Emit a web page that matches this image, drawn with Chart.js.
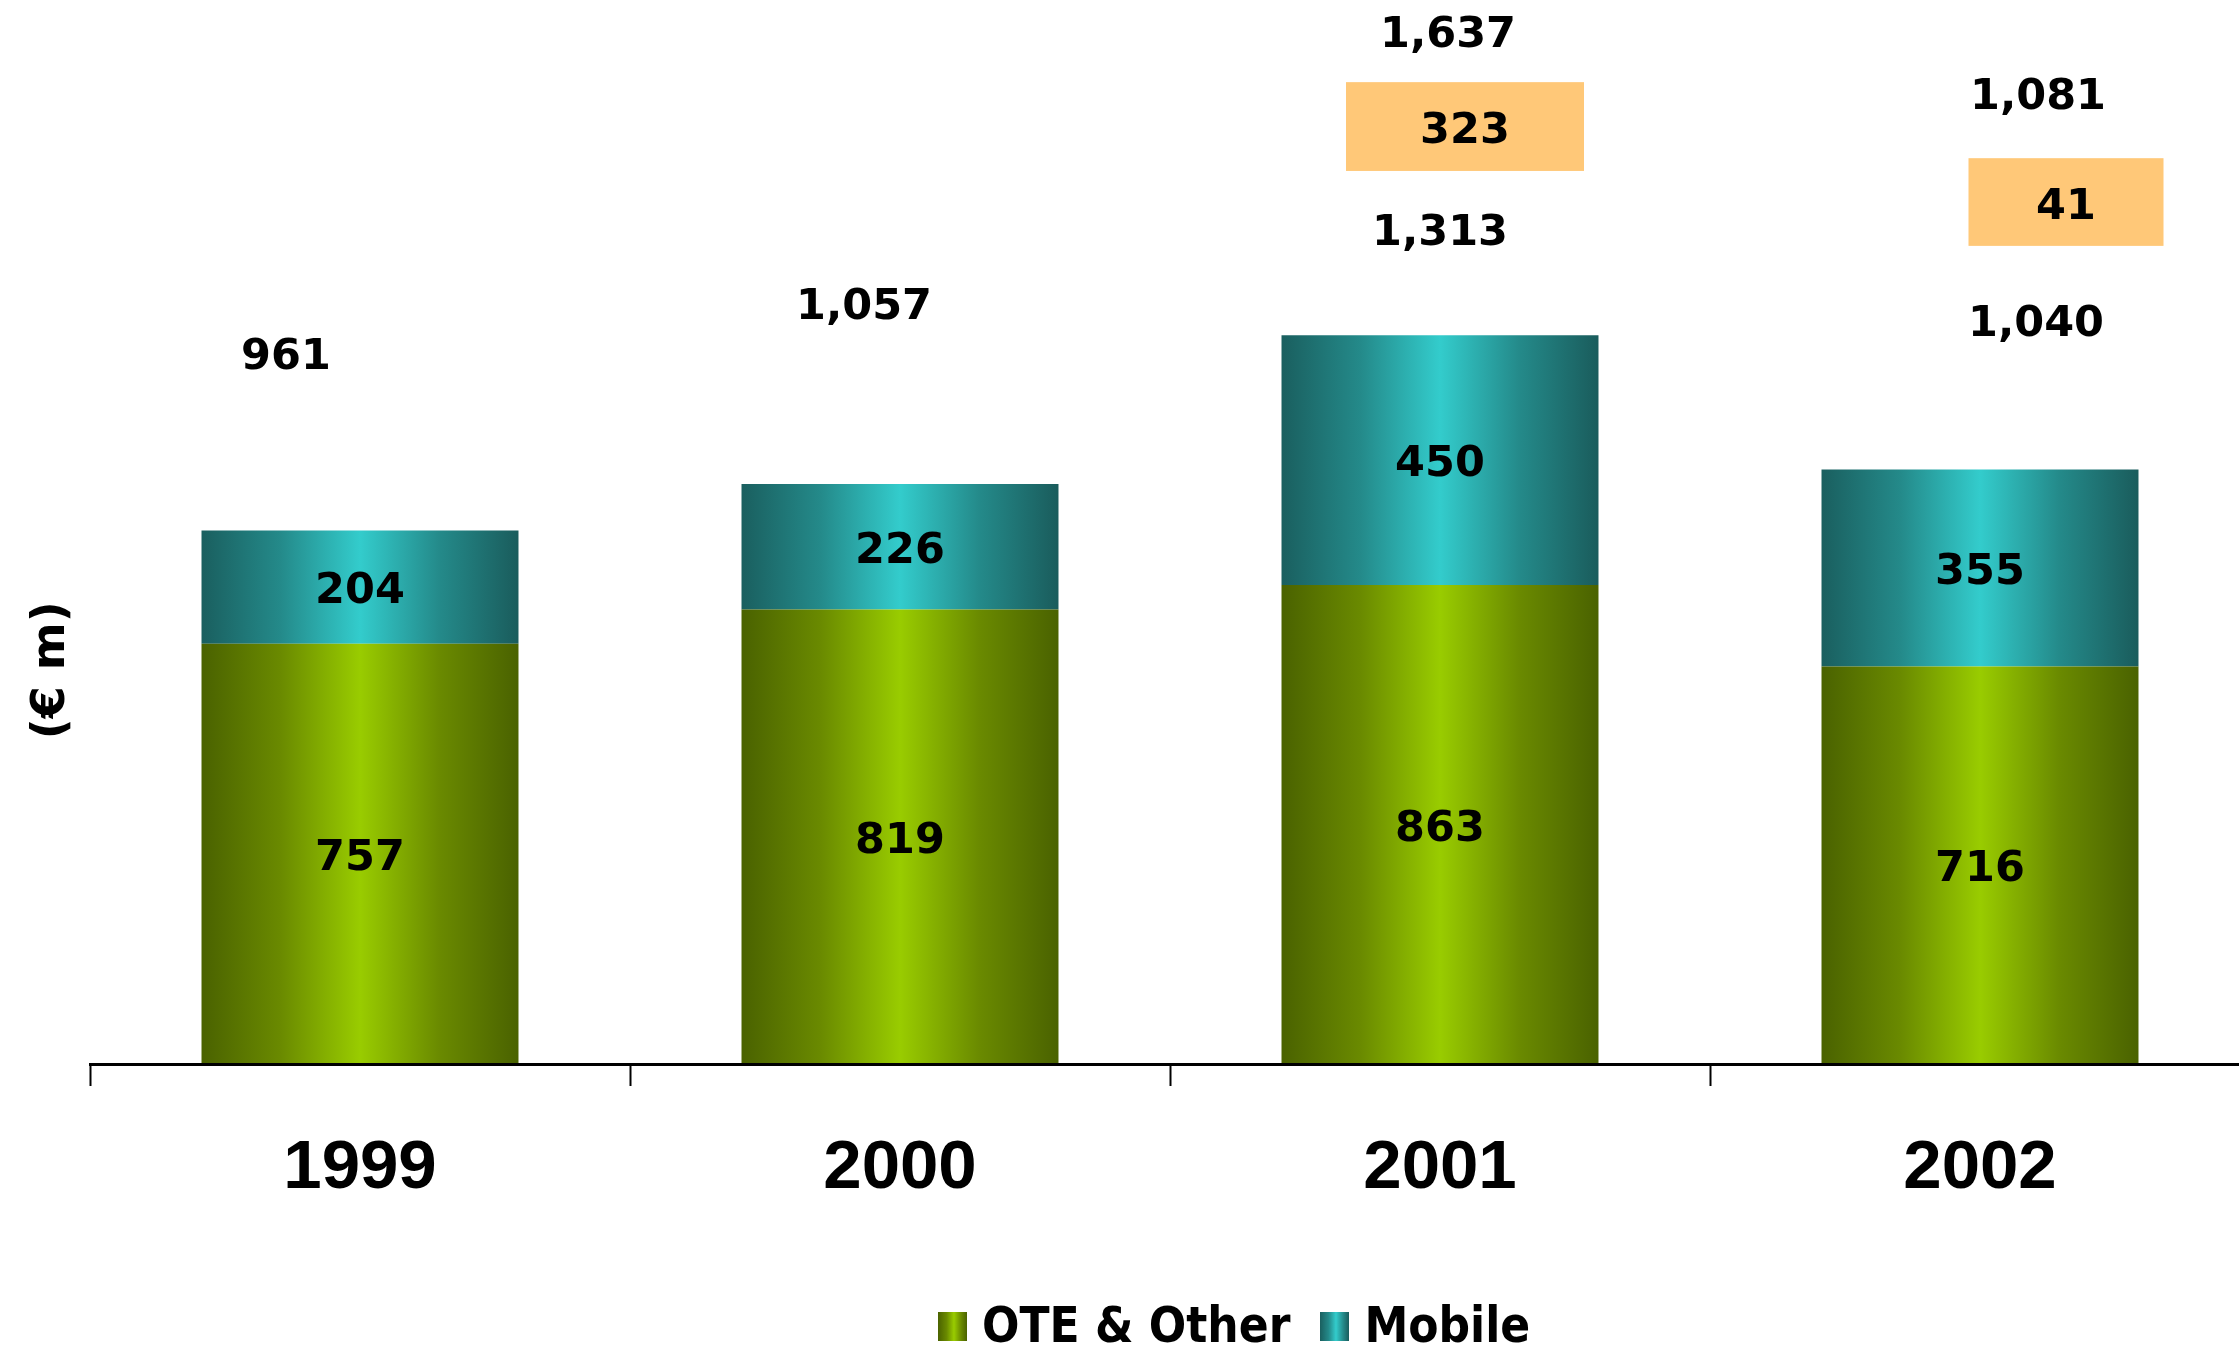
<!DOCTYPE html>
<html lang="en">
<head>
  <meta charset="UTF-8">
  <title>OTE Group (€ m) 1999-2002</title>
  <style>
    html, body {
      margin: 0;
      padding: 0;
      background: #fff;
      overflow: hidden;
    }
    .wrap {
      position: relative;
      width: 2250px;
      height: 1349px;
    }
    #legend {
      position: absolute;
      left: 938px;
      top: 1297px;
      display: flex;
      align-items: center;
      font-family: 'DejaVu Sans Condensed', 'DejaVu Sans', sans-serif;
      font-stretch: condensed;
      font-weight: bold;
      font-size: 49px;
      line-height: 58px;
      color: #000;
    }
    #legend .item {
      display: flex;
      align-items: center;
      margin-right: 30px;
    }
    #legend .box {
      width: 29px;
      height: 29px;
      margin-right: 15px;
    }
  </style>
</head>
<body>
  <div class="wrap">
    <canvas id="chart" width="2250" height="1349"></canvas>
    <div id="legend"></div>
  </div>

  <script src="https://cdn.jsdelivr.net/npm/chart.js"></script>
  <script>
    // data
    const years = ['1999', '2000', '2001', '2002'];
    const oteOther = [757, 819, 863, 716];
    const mobile = [204, 226, 450, 355];
    const totals = ['961', '1,057', '1,313', '1,040'];
    const adjustments = [null, null, '323', '41'];
    const adjustedTotals = [null, null, '1,637', '1,081'];

    const BAR_PCT = 0.587;
    const LABEL_FONT = 'bold 43px "DejaVu Sans"';
    const TEXT_NUDGE = 5; // canvas "middle" sits a little high for digits

    // where the callouts sit above each bar (y in axis units, dx in px from bar centre)
    const noteLayout = [
      { totalY: 1281, totalDx: -74 },
      { totalY: 1371, totalDx: -36 },
      { totalY: 1505, totalDx: 0, boxTop: 1769, boxBottom: 1609, boxDx: 25, boxW: 238, boxTextY: 1688, topY: 1861, topDx: 8 },
      { totalY: 1341, totalDx: 56, boxTop: 1632, boxBottom: 1474, boxDx: 86, boxW: 195, boxTextY: 1551, topY: 1750, topDx: 58 }
    ];

    const palette = {
      green: ['#4a6200', '#6a8a00', '#99cc00', '#6a8a00', '#4a6200'],
      teal: ['#1a5f5f', '#248a8a', '#33cccc', '#248a8a', '#1a5c5c']
    };

    function barGradient(context, stops) {
      const chart = context.chart;
      if (!chart.chartArea) return stops[2];
      const xs = chart.scales.x;
      const c = xs.getPixelForValue(context.dataIndex);
      const half = (xs.width / years.length) * BAR_PCT / 2;
      const g = chart.ctx.createLinearGradient(c - half, 0, c + half, 0);
      g.addColorStop(0, stops[0]);
      g.addColorStop(0.25, stops[1]);
      g.addColorStop(0.5, stops[2]);
      g.addColorStop(0.75, stops[3]);
      g.addColorStop(1, stops[4]);
      return g;
    }

    const annotations = {
      id: 'annotations',
      afterDatasetsDraw(chart) {
        const ctx = chart.ctx;
        const xs = chart.scales.x, ys = chart.scales.y;
        ctx.save();
        ctx.font = LABEL_FONT;
        ctx.fillStyle = '#000';
        ctx.textAlign = 'center';
        ctx.textBaseline = 'middle';

        // values inside each segment
        chart.data.datasets.forEach((ds, di) => {
          chart.getDatasetMeta(di).data.forEach((bar, i) => {
            ctx.fillText(ds.data[i].toLocaleString('en-US'), bar.x, (bar.y + bar.base) / 2 + TEXT_NUDGE);
          });
        });

        // totals and the orange adjustment boxes
        years.forEach((y, i) => {
          const cx = xs.getPixelForValue(i);
          const n = noteLayout[i];
          ctx.fillStyle = '#000';
          ctx.fillText(totals[i], cx + n.totalDx, ys.getPixelForValue(n.totalY) + TEXT_NUDGE);
          if (adjustments[i]) {
            const top = ys.getPixelForValue(n.boxTop);
            const bottom = ys.getPixelForValue(n.boxBottom);
            const bx = cx + n.boxDx;
            ctx.fillStyle = '#ffc878';
            ctx.fillRect(bx - n.boxW / 2, top, n.boxW, bottom - top);
            ctx.fillStyle = '#000';
            ctx.fillText(adjustments[i], bx, ys.getPixelForValue(n.boxTextY) + TEXT_NUDGE);
            ctx.fillText(adjustedTotals[i], cx + n.topDx, ys.getPixelForValue(n.topY) + TEXT_NUDGE);
          }
        });

        // axis title
        const area = chart.chartArea;
        ctx.translate(area.left - 38, area.top + area.height * 0.63);
        ctx.rotate(-Math.PI / 2);
        ctx.font = 'bold 46px "DejaVu Sans"';
        ctx.fillText('(€ m)', 0, 0);
        ctx.restore();
      }
    };

    const chart = new Chart(document.getElementById('chart'), {
      type: 'bar',
      data: {
        labels: years,
        datasets: [
          {
            label: 'OTE & Other',
            data: oteOther,
            backgroundColor: c => barGradient(c, palette.green),
            legendCss: 'linear-gradient(90deg,#4a6200,#6a8a00 30%,#99cc00 55%,#6a8a00 80%,#4a6200)'
          },
          {
            label: 'Mobile',
            data: mobile,
            backgroundColor: c => barGradient(c, palette.teal),
            legendCss: 'linear-gradient(90deg,#1a5f5f,#248a8a 30%,#33cccc 55%,#248a8a 80%,#1a5c5c)'
          }
        ]
      },
      options: {
        responsive: false,
        animation: false,
        categoryPercentage: 1,
        barPercentage: BAR_PCT,
        layout: { padding: { left: 90, right: 0, top: 0, bottom: 0 } },
        plugins: {
          legend: { display: false },
          tooltip: { enabled: false }
        },
        scales: {
          x: {
            stacked: true,
            afterFit(scale) { scale.height = 285; },
            border: { display: true, color: '#000', width: 3, z: 1 },
            grid: {
              display: true,
              offset: true,
              drawOnChartArea: false,
              drawTicks: true,
              tickLength: 22,
              tickWidth: 2,
              color: '#000'
            },
            ticks: {
              color: '#000',
              padding: 42,
              font: { family: '"Liberation Sans", Arial, sans-serif', weight: 'bold', size: 69 }
            }
          },
          y: {
            stacked: true,
            display: false,
            min: 0,
            max: 1917
          }
        }
      },
      plugins: [annotations]
    });

    // html legend built from the datasets
    const legendEl = document.getElementById('legend');
    chart.data.datasets.forEach(ds => {
      const item = document.createElement('div');
      item.className = 'item';
      const box = document.createElement('span');
      box.className = 'box';
      box.style.background = ds.legendCss;
      const txt = document.createElement('span');
      txt.textContent = ds.label;
      item.appendChild(box);
      item.appendChild(txt);
      legendEl.appendChild(item);
    });
  </script>
</body>
</html>
